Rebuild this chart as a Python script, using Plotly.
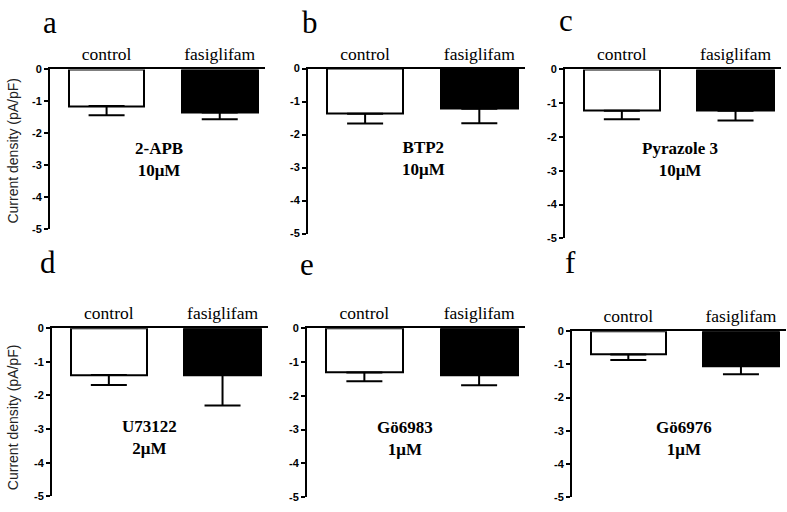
import plotly.graph_objects as go

# ---------------- data ----------------
categories = ["control", "fasiglifam"]
panel_letters = ["a", "b", "c", "d", "e", "f"]
drug_names = ["2-APB", "BTP2", "Pyrazole 3", "U73122", "Gö6983", "Gö6976"]
drug_doses = ["10μM", "10μM", "10μM", "2μM", "1μM", "1μM"]
control_mean = [-1.15, -1.37, -1.22, -1.39, -1.31, -0.70]
fasiglifam_mean = [-1.35, -1.22, -1.22, -1.39, -1.38, -1.05]
control_sem = [0.29, 0.30, 0.25, 0.30, 0.26, 0.17]
fasiglifam_sem = [0.21, 0.44, 0.29, 0.91, 0.31, 0.25]
y_ticks = [0, -1, -2, -3, -4, -5]
y_title = "Current density (pA/pF)"

# ---------------- layout constants (pixels) ----------------
W, H = 787, 512
# plot-area pixel boxes: (left, right, top, bottom)
boxes = [
    (50, 265, 65, 228),
    (308, 525, 64, 233),
    (565, 781, 65, 238),
    (52, 268, 330, 502),
    (307, 525, 330, 503),
    (572, 786, 333, 503),
]
letter_pos = [(50, 17), (310, 17), (566, 15), (48, 263), (307, 265), (570, 263)]
label_pos = [(0.46, -2.83), (0.51, -2.72), (0.51, -2.66), (0.36, -3.26), (0.35, -3.25), (0.49, -3.22)]
ytitle_pos = [(13, 148), (13, 421)]

fig = go.Figure()
annotations = []
for i in range(6):
    ax = "" if i == 0 else str(i + 1)
    xa, ya = "x" + ax, "y" + ax
    vals = [control_mean[i], fasiglifam_mean[i]]
    errs = [control_sem[i], fasiglifam_sem[i]]
    fig.add_trace(go.Bar(
        x=[0, 1], y=vals, width=0.67,
        marker=dict(color=["white", "black"], line=dict(color="black", width=2)),
        error_y=dict(type="data", symmetric=False, array=[0, 0], arrayminus=errs,
                     color="black", thickness=2, width=18),
        xaxis=xa, yaxis=ya, showlegend=False, hoverinfo="skip",
    ))
    l, r, t, b = boxes[i]
    fig.layout["xaxis" + ax] = dict(
        domain=[l / W, r / W], anchor=ya, side="top",
        range=[-0.5, 1.4], showline=True, linecolor="black", linewidth=2,
        tickmode="array", tickvals=[0, 1], ticktext=categories, ticks="",
        showgrid=False, zeroline=False,
        tickfont=dict(family="Liberation Serif", size=17.5, color="black"),
    )
    fig.layout["yaxis" + ax] = dict(
        domain=[1 - b / H, 1 - t / H], anchor=xa,
        range=[-5, 0], autorange=False, showline=True, linecolor="black", linewidth=2,
        tickmode="array", tickvals=y_ticks, ticktext=[str(v) for v in y_ticks],
        ticks="outside", ticklen=4, tickwidth=2, tickcolor="black",
        showgrid=False, zeroline=False,
        tickfont=dict(family="Liberation Sans", size=11, color="black", weight="bold"),
    )
    lx, ly = label_pos[i]
    annotations.append(dict(
        x=lx, y=ly, xref=xa, yref=ya, showarrow=False,
        text="<b>%s<br>%s</b>" % (drug_names[i], drug_doses[i]),
        font=dict(family="Liberation Serif", size=17, color="black"),
        align="center",
    ))
    px, py = letter_pos[i]
    annotations.append(dict(
        x=px / W, y=1 - py / H, xref="paper", yref="paper", showarrow=False,
        text=panel_letters[i], xanchor="center", yanchor="middle",
        font=dict(family="Liberation Serif", size=31, color="black"),
    ))

for (px, py) in ytitle_pos:
    annotations.append(dict(
        x=px / W, y=1 - py / H, xref="paper", yref="paper", showarrow=False,
        text=y_title, textangle=-90, xanchor="center", yanchor="middle",
        font=dict(family="Liberation Sans", size=14, color="#222"),
    ))

fig.update_layout(
    width=W, height=H, margin=dict(l=0, r=0, t=0, b=0),
    paper_bgcolor="white", plot_bgcolor="white",
    annotations=annotations, bargap=0,
)
fig.write_html(
    "out.html",
    config={"displayModeBar": False},
    post_script="document.body.style.margin='0';document.body.style.overflow='hidden';",
)
